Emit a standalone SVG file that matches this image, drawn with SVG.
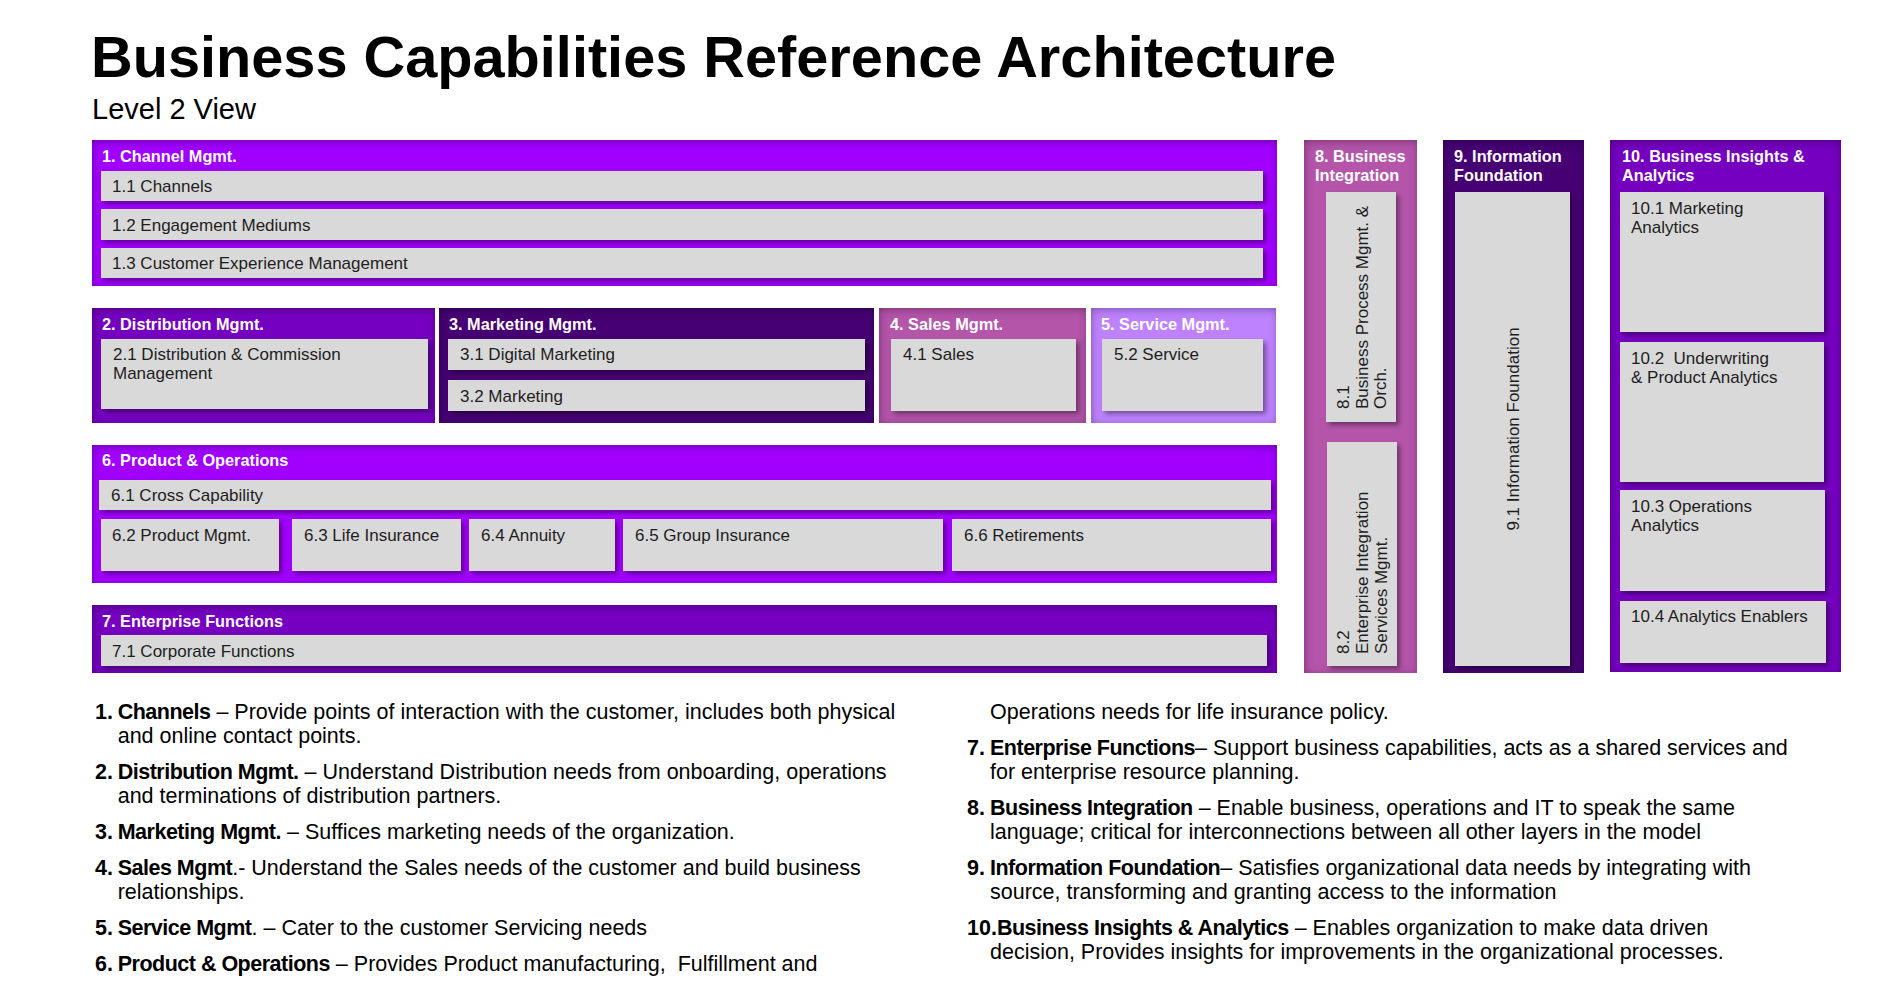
<svg xmlns="http://www.w3.org/2000/svg" width="1897" height="995" viewBox="0 0 1897 995">
<defs>
  <filter id="inset" x="-0.2" y="-0.2" width="1.4" height="1.4">
    <feComponentTransfer in="SourceAlpha" result="inv"><feFuncA type="table" tableValues="1 0"/></feComponentTransfer>
    <feOffset in="inv" dx="1" dy="2" result="off"/>
    <feGaussianBlur in="off" stdDeviation="4" result="blur"/>
    <feFlood flood-color="#000" flood-opacity="0.6"/>
    <feComposite in2="blur" operator="in"/>
    <feComposite in2="SourceAlpha" operator="in" result="shadow"/>
    <feMerge><feMergeNode in="SourceGraphic"/><feMergeNode in="shadow"/></feMerge>
  </filter>
  <filter id="drop" x="-0.2" y="-0.2" width="1.4" height="1.4">
    <feDropShadow dx="3" dy="3" stdDeviation="2.5" flood-color="#000" flood-opacity="0.4"/>
  </filter>
  <style>
    .outer{filter:url(#inset)}
    .inner{fill:#d9d9d9;filter:url(#drop)}
    .c1{fill:#a100ff}.c2{fill:#7500c0}.c3{fill:#460073}.c4{fill:#b455aa}.c5{fill:#be82ff}
    .hdr{font-family:"Liberation Sans",Arial,sans-serif;font-weight:bold;font-size:16.3px;fill:#fff}
    .lbl{font-family:"Liberation Sans",Arial,sans-serif;font-size:17px;fill:#1e1e1e}
    .desc{font-family:"Liberation Sans",Arial,sans-serif;font-size:21.5px;fill:#000}
    .b{font-weight:bold}
    .bl{font-weight:bold;letter-spacing:-0.5px}
  </style>
</defs>
<rect width="1897" height="995" fill="#fff"/>
<g id="title">
  <text x="91" y="77" font-family="Liberation Sans, Arial, sans-serif" font-weight="bold" font-size="57.7" fill="#000">Business Capabilities Reference Architecture</text>
  <text x="92" y="119" font-family="Liberation Sans, Arial, sans-serif" font-size="29" fill="#000">Level 2 View</text>
</g>

<g id="channel-mgmt">
  <rect class="outer c1" x="92" y="140" width="1185" height="146"/>
  <text class="hdr" x="102" y="161.5">1. Channel Mgmt.</text>
  <rect class="inner" x="101" y="171" width="1162" height="30"/>
  <text class="lbl" x="112" y="192.3">1.1 Channels</text>
  <rect class="inner" x="101" y="209" width="1162" height="31"/>
  <text class="lbl" x="112" y="230.5">1.2 Engagement Mediums</text>
  <rect class="inner" x="101" y="248" width="1162" height="30"/>
  <text class="lbl" x="112" y="269.3">1.3 Customer Experience Management</text>
</g>

<g id="distribution-mgmt">
  <rect class="outer c2" x="92" y="308" width="343" height="115"/>
  <text class="hdr" x="102" y="330">2. Distribution Mgmt.</text>
  <rect class="inner" x="101" y="339" width="327" height="70"/>
  <text class="lbl" x="113" y="360">2.1 Distribution &amp; Commission</text>
  <text class="lbl" x="113" y="379">Management</text>
</g>

<g id="marketing-mgmt">
  <rect class="outer c3" x="439" y="308" width="435" height="115"/>
  <text class="hdr" x="449" y="330">3. Marketing Mgmt.</text>
  <rect class="inner" x="448" y="339" width="417" height="31"/>
  <text class="lbl" x="460" y="360">3.1 Digital Marketing</text>
  <rect class="inner" x="448" y="380" width="417" height="31"/>
  <text class="lbl" x="460" y="401.5">3.2 Marketing</text>
</g>

<g id="sales-mgmt">
  <rect class="outer c4" x="879" y="308" width="207" height="115"/>
  <text class="hdr" x="890" y="330">4. Sales Mgmt.</text>
  <rect class="inner" x="891" y="339" width="185" height="72"/>
  <text class="lbl" x="903" y="360">4.1 Sales</text>
</g>

<g id="service-mgmt">
  <rect class="outer c5" x="1091" y="308" width="185" height="115"/>
  <text class="hdr" x="1101" y="330">5. Service Mgmt.</text>
  <rect class="inner" x="1102" y="339" width="161" height="72"/>
  <text class="lbl" x="1114" y="360">5.2 Service</text>
</g>

<g id="product-operations">
  <rect class="outer c1" x="92" y="445" width="1185" height="138"/>
  <text class="hdr" x="102" y="466">6. Product &amp; Operations</text>
  <rect class="inner" x="99" y="480" width="1172" height="30"/>
  <text class="lbl" x="111" y="501">6.1 Cross Capability</text>
  <rect class="inner" x="101" y="519" width="178" height="52"/>
  <text class="lbl" x="112" y="541">6.2 Product Mgmt.</text>
  <rect class="inner" x="292" y="519" width="169" height="52"/>
  <text class="lbl" x="304" y="541">6.3 Life Insurance</text>
  <rect class="inner" x="469" y="519" width="146" height="52"/>
  <text class="lbl" x="481" y="541">6.4 Annuity</text>
  <rect class="inner" x="623" y="519" width="320" height="52"/>
  <text class="lbl" x="635" y="541">6.5 Group Insurance</text>
  <rect class="inner" x="952" y="519" width="319" height="52"/>
  <text class="lbl" x="964" y="541">6.6 Retirements</text>
</g>

<g id="enterprise-functions">
  <rect class="outer c2" x="92" y="605" width="1185" height="68"/>
  <text class="hdr" x="102" y="626.5">7. Enterprise Functions</text>
  <rect class="inner" x="101" y="635" width="1166" height="31"/>
  <text class="lbl" x="112" y="656.7">7.1 Corporate Functions</text>
</g>

<g id="business-integration">
  <rect class="outer c4" x="1304" y="140" width="113" height="533"/>
  <text class="hdr" x="1315" y="162">8. Business</text>
  <text class="hdr" x="1315" y="181">Integration</text>
  <rect class="inner" x="1326" y="192" width="70" height="230"/>
  <text class="lbl" transform="translate(1349,409) rotate(-90)"><tspan x="0" y="0">8.1</tspan><tspan x="0" y="18.7">Business Process Mgmt. &amp;</tspan><tspan x="0" y="37.4">Orch.</tspan></text>
  <rect class="inner" x="1327" y="442" width="70" height="224"/>
  <text class="lbl" transform="translate(1349,654) rotate(-90)"><tspan x="0" y="0">8.2</tspan><tspan x="0" y="19">Enterprise Integration</tspan><tspan x="0" y="38">Services Mgmt.</tspan></text>
</g>

<g id="information-foundation">
  <rect class="outer c3" x="1443" y="140" width="141" height="533"/>
  <text class="hdr" x="1454" y="162">9. Information</text>
  <text class="hdr" x="1454" y="181">Foundation</text>
  <rect class="inner" x="1455" y="192" width="115" height="474"/>
  <text class="lbl" text-anchor="middle" transform="translate(1519,429) rotate(-90)">9.1 Information Foundation</text>
</g>

<g id="business-insights-analytics">
  <rect class="outer c2" x="1610" y="140" width="231" height="532"/>
  <text class="hdr" x="1622" y="162">10. Business Insights &amp;</text>
  <text class="hdr" x="1622" y="181">Analytics</text>
  <rect class="inner" x="1620" y="192" width="204" height="140"/>
  <text class="lbl" x="1631" y="214.3">10.1 Marketing</text>
  <text class="lbl" x="1631" y="233.3">Analytics</text>
  <rect class="inner" x="1620" y="342" width="204" height="140"/>
  <text class="lbl" x="1631" y="364.3" xml:space="preserve">10.2  Underwriting</text>
  <text class="lbl" x="1631" y="383.3">&amp; Product Analytics</text>
  <rect class="inner" x="1620" y="490" width="205" height="101"/>
  <text class="lbl" x="1631" y="511.7">10.3 Operations</text>
  <text class="lbl" x="1631" y="530.7">Analytics</text>
  <rect class="inner" x="1620" y="601" width="206" height="62"/>
  <text class="lbl" x="1631" y="621.7">10.4 Analytics Enablers</text>
</g>

<g id="connectors"/>

<g id="descriptions" class="desc">
  <text x="95" y="719.3" class="b">1.</text>
  <text x="117.7" y="719.3"><tspan class="bl">Channels</tspan> – Provide points of interaction with the customer, includes both physical</text>
  <text x="117.7" y="743.3">and online contact points.</text>

  <text x="95" y="779.3" class="b">2.</text>
  <text x="117.7" y="779.3"><tspan class="bl">Distribution Mgmt.</tspan> – Understand Distribution needs from onboarding, operations</text>
  <text x="117.7" y="803.3">and terminations of distribution partners.</text>

  <text x="95" y="839.3" class="b">3.</text>
  <text x="117.7" y="839.3"><tspan class="bl">Marketing Mgmt.</tspan> – Suffices marketing needs of the organization.</text>

  <text x="95" y="875.3" class="b">4.</text>
  <text x="117.7" y="875.3"><tspan class="bl">Sales Mgmt</tspan>.- Understand the Sales needs of the customer and build business</text>
  <text x="117.7" y="899.3">relationships.</text>

  <text x="95" y="935.3" class="b">5.</text>
  <text x="117.7" y="935.3"><tspan class="bl">Service Mgmt</tspan>. – Cater to the customer Servicing needs</text>

  <text x="95" y="971.3" class="b">6.</text>
  <text x="117.7" y="971.3" xml:space="preserve"><tspan class="bl">Product &amp; Operations</tspan> – Provides Product manufacturing,  Fulfillment and</text>

  <text x="990" y="719.3">Operations needs for life insurance policy.</text>

  <text x="967" y="755.3" class="b">7.</text>
  <text x="990" y="755.3"><tspan class="bl">Enterprise Functions</tspan>– Support business capabilities, acts as a shared services and</text>
  <text x="990" y="779.3">for enterprise resource planning.</text>

  <text x="967" y="815.3" class="b">8.</text>
  <text x="990" y="815.3"><tspan class="bl">Business Integration</tspan> – Enable business, operations and IT to speak the same</text>
  <text x="990" y="839.3">language; critical for interconnections between all other layers in the model</text>

  <text x="967" y="875.3" class="b">9.</text>
  <text x="990" y="875.3"><tspan class="bl">Information Foundation</tspan>– Satisfies organizational data needs by integrating with</text>
  <text x="990" y="899.3">source, transforming and granting access to the information</text>

  <text x="967" y="935.3"><tspan class="b">10.</tspan><tspan class="bl">Business Insights &amp; Analytics</tspan> – Enables organization to make data driven</text>
  <text x="990" y="959.3">decision, Provides insights for improvements in the organizational processes.</text>
</g>
</svg>
